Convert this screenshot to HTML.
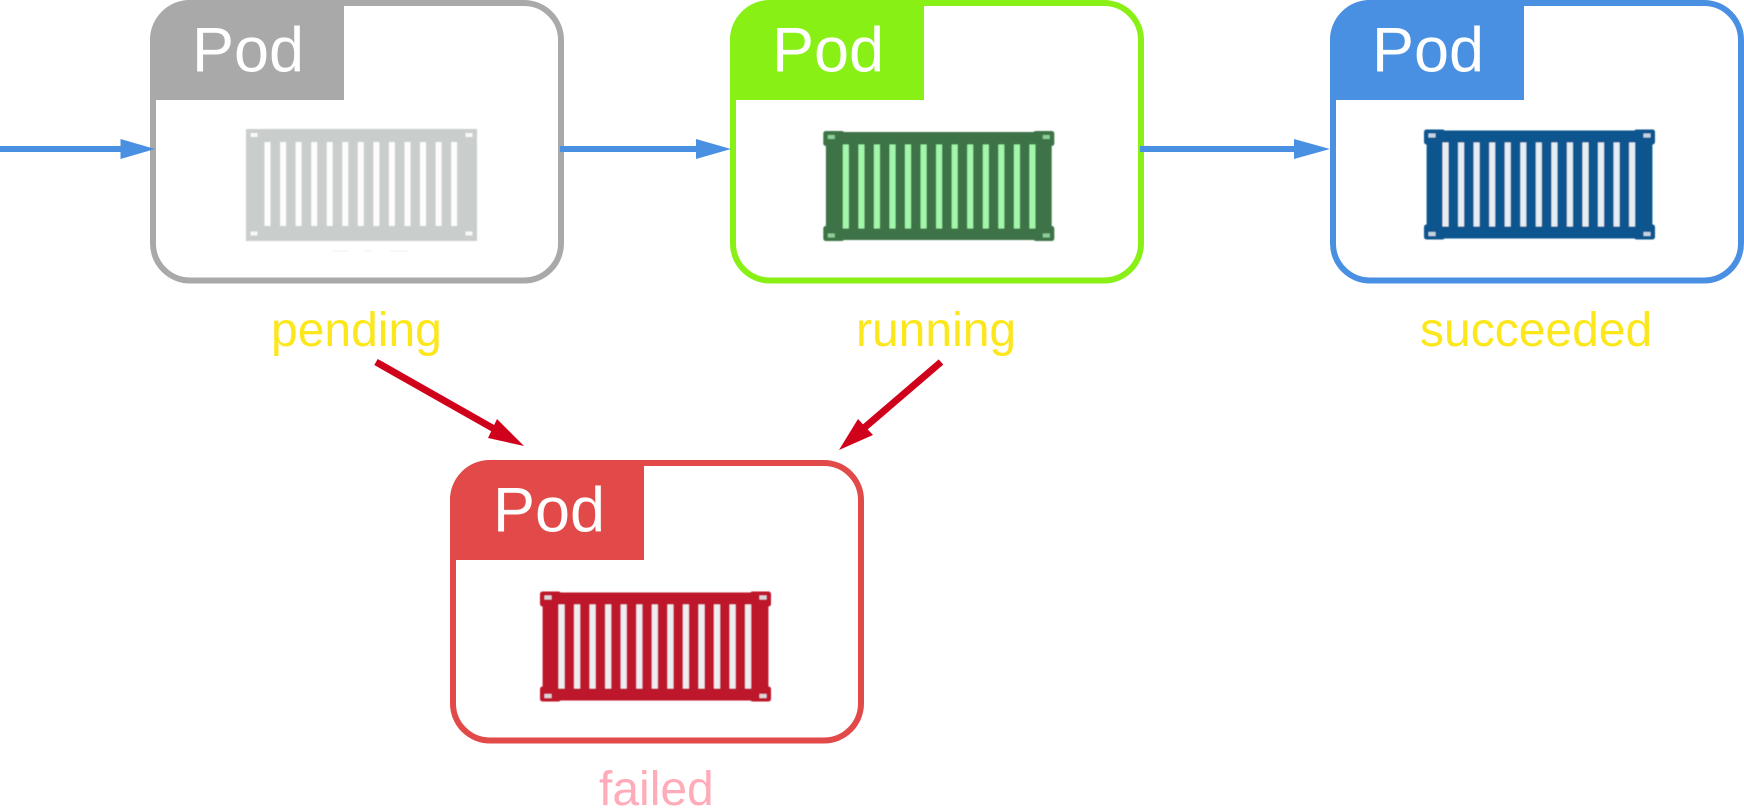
<!DOCTYPE html>
<html lang="en">
<head>
<meta charset="utf-8">
<title>Pod lifecycle</title>
<style>
html,body{margin:0;padding:0;background:#fff;width:1744px;height:808px;overflow:hidden}
svg{display:block}
text{font-family:"Liberation Sans",Arial,sans-serif}
.pod{font-size:63px;fill:#fff}
.lbl{font-size:48px;fill:#fce71c}
.icon{filter:url(#soft)}
</style>
</head>
<body>
<svg xmlns="http://www.w3.org/2000/svg" width="1744" height="808" viewBox="0 0 1744 808">
<defs>
  <filter id="soft" x="-5%" y="-5%" width="110%" height="110%"><feGaussianBlur stdDeviation="0.5"/></filter>
  <g id="slats">
    <rect x="18.5" y="13" width="6" height="84"/><rect x="34.1" y="13" width="6" height="84"/>
    <rect x="49.6" y="13" width="6" height="84"/><rect x="65.2" y="13" width="6" height="84"/>
    <rect x="80.7" y="13" width="6" height="84"/><rect x="96.3" y="13" width="6" height="84"/>
    <rect x="111.8" y="13" width="6" height="84"/><rect x="127.4" y="13" width="6" height="84"/>
    <rect x="142.9" y="13" width="6" height="84"/><rect x="158.5" y="13" width="6" height="84"/>
    <rect x="174" y="13" width="6" height="84"/><rect x="189.6" y="13" width="6" height="84"/>
    <rect x="205.1" y="13" width="6" height="84"/>
  </g>
  <g id="holes">
    <rect x="4.5" y="4" width="7" height="4"/><rect x="219.5" y="4" width="7" height="4"/>
    <rect x="4.5" y="102.5" width="7" height="4"/><rect x="219.5" y="102.5" width="7" height="4"/>
  </g>
  <g id="fittings">
    <rect x="2.6" y="1" width="225.8" height="108"/>
    <rect x="0" y="0" width="21" height="15" rx="2.5"/><rect x="210" y="0" width="21" height="15" rx="2.5"/>
    <rect x="0" y="95" width="21" height="15" rx="2.5"/><rect x="210" y="95" width="21" height="15" rx="2.5"/>
  </g>
</defs>

<!-- pending -->
<g>
  <rect x="153" y="3" width="408" height="277.5" rx="37" fill="#fff" stroke="#a9a9a9" stroke-width="6"/>
  <path d="M150 100V40A40 40 0 0 1 190 0H344V100Z" fill="#a9a9a9"/>
  <text class="pod" x="192" y="71.5">Pod</text>
  <g class="icon" transform="translate(246 129)">
    <rect x="0" y="0" width="231" height="112" fill="#c9cdcc"/>
    <use href="#slats" fill="#fdfdfd"/>
    <use href="#holes" fill="#f8f8f8"/>
  </g>
  <rect x="333" y="250.5" width="16" height="1" fill="#f0f0f0"/><rect x="364" y="250.5" width="8" height="1" fill="#f0f0f0"/><rect x="390" y="250.5" width="18" height="1" fill="#f0f0f0"/>
  <text class="lbl" x="271" y="346">pending</text>
</g>

<!-- running -->
<g>
  <rect x="733" y="3" width="408" height="277.5" rx="37" fill="#fff" stroke="#88f015" stroke-width="6"/>
  <path d="M730 100V40A40 40 0 0 1 770 0H924V100Z" fill="#88f015"/>
  <text class="pod" x="772" y="71.5">Pod</text>
  <g class="icon" transform="translate(823.3 131)">
    <use href="#fittings" fill="#3e7346"/>
    <use href="#slats" fill="#a2f7ab" transform="translate(1 0.5)"/>
    <use href="#holes" fill="#8ccf97"/>
  </g>
  <text class="lbl" x="856" y="346">running</text>
</g>

<!-- succeeded -->
<g>
  <rect x="1333" y="3" width="408" height="277.5" rx="37" fill="#fff" stroke="#4a90e2" stroke-width="6"/>
  <path d="M1330 100V40A40 40 0 0 1 1370 0H1524V100Z" fill="#4a90e2"/>
  <text class="pod" x="1372" y="71.5">Pod</text>
  <g class="icon" transform="translate(1424 129.5)">
    <use href="#fittings" fill="#08548f"/>
    <use href="#slats" fill="#e6edf3"/>
    <use href="#holes" fill="#c5d4e2"/>
  </g>
  <text class="lbl" x="1420" y="346">succeeded</text>
</g>

<!-- failed -->
<g>
  <rect x="453" y="463" width="408" height="277.5" rx="37" fill="#fff" stroke="#e24a4a" stroke-width="6"/>
  <path d="M450 560V500A40 40 0 0 1 490 460H644V560Z" fill="#e24a4a"/>
  <text class="pod" x="493" y="531.5">Pod</text>
  <g class="icon" transform="translate(540 591.5)">
    <use href="#fittings" fill="#be1829"/>
    <use href="#slats" fill="#eeeef2"/>
    <use href="#holes" fill="#d8d8de"/>
  </g>
  <text class="lbl" style="fill:#ffabb9" x="599" y="805">failed</text>
</g>

<!-- blue transition arrows -->
<g fill="#4a90e2">
  <rect x="0" y="146" width="122" height="6"/>
  <polygon points="120.5,139 155,149 120.5,159"/>
</g>
<g fill="#4a90e2">
  <rect x="560" y="146" width="138" height="6"/>
  <polygon points="696,139 731,149 696,159"/>
</g>
<g fill="#4a90e2">
  <rect x="1140" y="146" width="156" height="6"/>
  <polygon points="1294,139 1330,149 1294,159"/>
</g>

<!-- red failure arrows -->
<g>
  <line x1="376" y1="362" x2="496" y2="430" stroke="#d0021b" stroke-width="7"/>
  <polygon points="497,419 524,446 488,438" fill="#d0021b"/>
</g>
<g>
  <line x1="941" y1="362" x2="864" y2="428" stroke="#d0021b" stroke-width="7"/>
  <polygon points="858,419 873,435 839,450" fill="#d0021b"/>
</g>
</svg>
</body>
</html>
